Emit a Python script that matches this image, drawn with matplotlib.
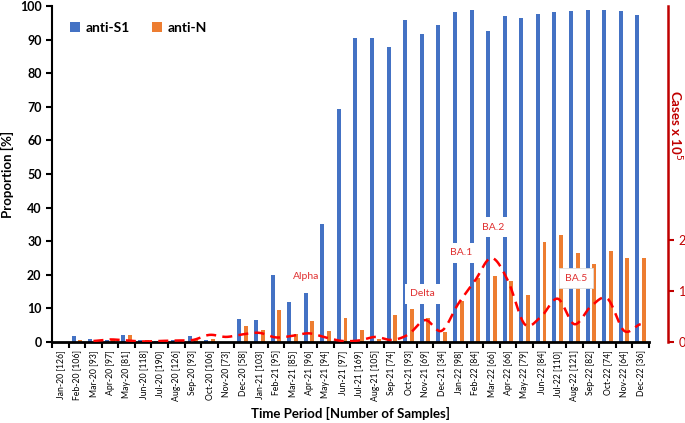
import numpy as np
import matplotlib
matplotlib.use('Agg')
import matplotlib.pyplot as plt

# Seroprevalence by month: anti-S1 / anti-N proportions with case counts overlaid

months = ['Jan-20', 'Feb-20', 'Mar-20', 'Apr-20', 'May-20', 'Jun-20', 'Jul-20', 'Aug-20',
          'Sep-20', 'Oct-20', 'Nov-20', 'Dec-20', 'Jan-21', 'Feb-21', 'Mar-21', 'Apr-21',
          'May-21', 'Jun-21', 'Jul-21', 'Aug-21', 'Sep-21', 'Oct-21', 'Nov-21', 'Dec-21',
          'Jan-22', 'Feb-22', 'Mar-22', 'Apr-22', 'May-22', 'Jun-22', 'Jul-22', 'Aug-22',
          'Sep-22', 'Oct-22', 'Nov-22', 'Dec-22']
samples = [126, 106, 93, 97, 81, 118, 190, 126, 93, 106, 73, 58,
           103, 95, 85, 96, 94, 97, 169, 105, 74, 93, 69, 34,
           98, 84, 66, 66, 79, 84, 110, 121, 82, 74, 64, 36]

anti_s1 = [0, 1.7, 0.8, 0.7, 2.2, 0.5, 0.3, 0.5, 1.9, 0.5, 0, 6.7,
           6.6, 20.0, 11.8, 14.5, 35.0, 69.2, 90.6, 90.6, 87.9, 95.8, 91.5, 94.2,
           98.1, 98.9, 92.6, 97.1, 96.3, 97.7, 98.3, 98.5, 98.9, 98.7, 98.5, 97.3]
anti_n = [0, 0.6, 0, 0.7, 2.2, 0.5, 0.2, 0.5, 0.7, 1.0, 0, 4.8,
          3.5, 9.5, 2.3, 6.2, 3.2, 7.2, 3.6, 0.8, 8.1, 9.7, 7.2, 3.0,
          12.2, 19.0, 19.7, 18.1, 13.9, 29.7, 31.9, 26.4, 23.1, 27.0, 24.9, 24.9]

# cases in units of 10^5 (no data for the first two months)
cases = [np.nan, np.nan, 0.02, 0.05, 0.03, 0.01, 0.02, 0.03, 0.04, 0.14, 0.10, 0.15,
         0.18, 0.09, 0.12, 0.17, 0.09, 0.02, 0.03, 0.10, 0.04, 0.15, 0.43, 0.22,
         0.75, 1.20, 1.65, 1.20, 0.35, 0.50, 0.85, 0.35, 0.70, 0.85, 0.22, 0.35]

variants = ['Alpha', 'Delta', 'BA.1', 'BA.2', 'BA.5']

BLUE = '#4472C4'
ORANGE = '#ED7D31'
DARKRED = '#C00000'


def smooth_line(x, y, steps=24):
    # Catmull-Rom curve through the points, like a spreadsheet "smoothed line"
    x = np.asarray(x, float)
    y = np.asarray(y, float)
    xs, ys = [], []
    n = len(x)
    for i in range(n - 1):
        y0 = y[i - 1] if i > 0 else y[i]
        y3 = y[i + 2] if i + 2 < n else y[i + 1]
        m1 = (y[i + 1] - y0) / 2
        m2 = (y3 - y[i]) / 2
        t = np.linspace(0, 1, steps, endpoint=(i == n - 2))
        h00 = 2 * t**3 - 3 * t**2 + 1
        h10 = t**3 - 2 * t**2 + t
        h01 = -2 * t**3 + 3 * t**2
        h11 = t**3 - t**2
        xs.append(x[i] + t * (x[i + 1] - x[i]))
        ys.append(h00 * y[i] + h10 * m1 + h01 * y[i + 1] + h11 * m2)
    return np.concatenate(xs), np.concatenate(ys)


plt.rcParams['font.family'] = ['Lato', 'DejaVu Sans']

fig = plt.figure(figsize=(6.85, 4.23), dpi=100)
ax = fig.add_axes([0.0759, 0.1915, 0.8715, 0.7945])

idx = np.arange(len(months))
w = 0.24
ax.bar(idx - 0.2, anti_s1, w, color=BLUE, label='anti-S1', zorder=2)
ax.bar(idx + 0.2, anti_n, w, color=ORANGE, label='anti-N', zorder=2)

ax.set_xlim(-0.5, len(months) - 0.5)
ax.set_ylim(0, 100)
ax.set_yticks(np.arange(0, 101, 10))
ax.tick_params(axis='y', labelsize=9, width=1.5, length=4, direction='out')
for lbl in ax.get_yticklabels():
    lbl.set_fontweight('bold')

tick_labels = [f'{m} [{n}]' for m, n in zip(months, samples)]
ax.set_xticks(idx)
ax.set_xticklabels(tick_labels, rotation=90, fontsize=6.2)
ax.tick_params(axis='x', which='major', length=0, pad=6)
ax.set_xticks(np.arange(-0.5, len(months), 1), minor=True)
ax.tick_params(axis='x', which='minor', length=4, width=1.5)

for s in ['top', 'right']:
    ax.spines[s].set_visible(False)
ax.spines['left'].set_linewidth(1.5)
ax.spines['bottom'].set_linewidth(2)

ax.set_xlabel('Time Period [Number of Samples]', fontsize=9.5, fontweight='bold', labelpad=4)
ax.set_ylabel('Proportion [%]', fontsize=9.5, fontweight='bold', labelpad=4)

ax.legend(loc='upper left', bbox_to_anchor=(0.01, 0.99), ncol=2, frameon=False,
          handlelength=0.7, handleheight=0.7, handletextpad=0.4, columnspacing=1.6,
          prop={'weight': 'bold', 'size': 10})

# variant labels (white boxes sit over the bars)
label_pos = [(14.8, 19.6), (21.85, 14.3), (24.2, 26.5), (26.1, 34.2), (31.1, 19.0)]
for name, (lx, ly) in zip(variants, label_pos):
    if name == 'Alpha':
        box = None
    elif name == 'BA.5':
        box = dict(boxstyle='square,pad=0.55', facecolor='white', edgecolor='#dddddd', lw=0.6)
    else:
        box = dict(boxstyle='square,pad=0.55', facecolor='white', edgecolor='none')
    ax.text(lx, ly, name, color='#E03030', fontsize=7.5, ha='center', va='center',
            bbox=box, zorder=5)

# cases on the secondary axis
ax2 = ax.twinx()
ok = ~np.isnan(np.asarray(cases, float))
sx, sy = smooth_line(idx[ok], np.asarray(cases, float)[ok])
ax2.plot(sx, sy, color='#FF0000', lw=1.8, dashes=(4, 2.5), zorder=4)
ax2.set_ylim(0, 6.6)
ax2.set_yticks([0, 1, 2])
ax2.tick_params(axis='y', colors=DARKRED, labelsize=9, width=1.5, length=4)
for lbl in ax2.get_yticklabels():
    lbl.set_fontweight('bold')
for s in ['top', 'left', 'bottom']:
    ax2.spines[s].set_visible(False)
ax2.spines['right'].set_position(('outward', 14))
ax2.spines['right'].set_color(DARKRED)
ax2.spines['right'].set_linewidth(1.8)
ax2.set_ylabel('Cases x 10$^5$', color=DARKRED, fontsize=9.5, fontweight='bold',
               rotation=270, va='center')
ax2.yaxis.set_label_coords(1.044, 0.645)

fig.savefig('out.png', dpi=100)
